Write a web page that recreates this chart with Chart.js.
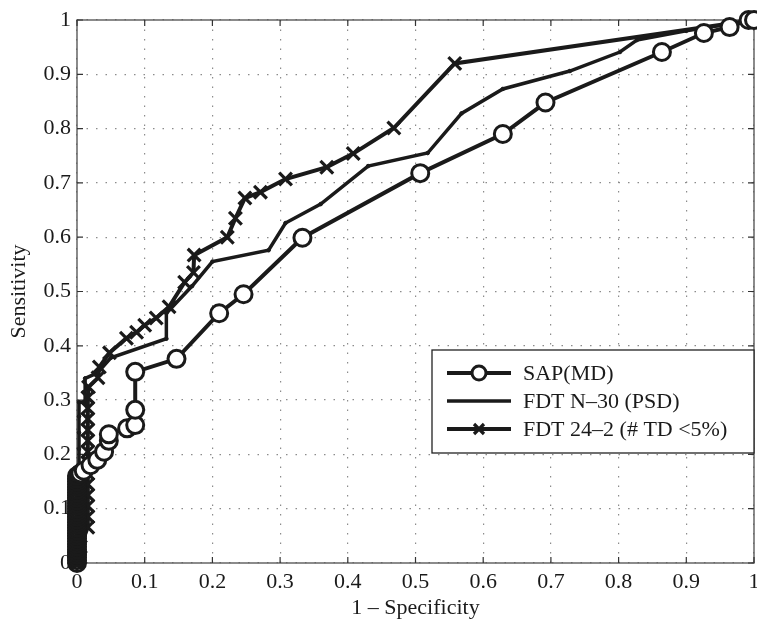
<!DOCTYPE html>
<html lang="en">
<head>
  <meta charset="UTF-8">
  <title>ROC curves</title>
  <style>
    html, body { margin: 0; padding: 0; background: #fff; overflow: hidden; }
    #roc { display: block; }
  </style>
</head>
<body>
  <canvas id="roc" width="757" height="621"></canvas>

  <script src="https://cdn.jsdelivr.net/npm/chart.js@4.4.0/dist/chart.umd.min.js"></script>
  <script>
    // Tick labels
    const xTickLabels = ['0', '0.1', '0.2', '0.3', '0.4', '0.5', '0.6', '0.7', '0.8', '0.9', '1'];
    const yTickLabels = ['0', '0.1', '0.2', '0.3', '0.4', '0.5', '0.6', '0.7', '0.8', '0.9', '1'];
    const seriesNames = ['SAP(MD)', 'FDT N\u201330 (PSD)', 'FDT 24\u20132 (# TD <5%)'];

    // SAP(MD) - circles
    const sapX = [0, 0, 0, 0, 0, 0, 0, 0, 0, 0, 0, 0, 0, 0, 0, 0, 0,
                  0, 0, 0, 0, 0, 0, 0, 0, 0, 0, 0, 0, 0, 0, 0, 0,
                  0.005, 0.01, 0.02, 0.03, 0.04, 0.047, 0.047, 0.074, 0.086, 0.086, 0.086,
                  0.147, 0.21, 0.246, 0.333, 0.507, 0.629, 0.692, 0.864, 0.926, 0.964, 0.992, 1];
    const sapY = [0, 0.005, 0.01, 0.015, 0.02, 0.025, 0.03, 0.035, 0.04, 0.045, 0.05, 0.055, 0.06, 0.065, 0.07, 0.075, 0.08,
                  0.085, 0.09, 0.095, 0.10, 0.105, 0.11, 0.115, 0.12, 0.125, 0.13, 0.135, 0.14, 0.145, 0.15, 0.155, 0.16,
                  0.165, 0.17, 0.18, 0.19, 0.205, 0.225, 0.237, 0.248, 0.254, 0.282, 0.352,
                  0.376, 0.46, 0.495, 0.599, 0.718, 0.79, 0.848, 0.941, 0.976, 0.987, 1, 1];

    // FDT N-30 (PSD) - dots
    const psdX = [0, 0.003, 0.003, 0.003, 0.003, 0.003, 0.003, 0.003, 0.003, 0.003, 0.003, 0.012, 0.012,
                  0.03, 0.05, 0.132, 0.132, 0.17, 0.2, 0.283, 0.308, 0.36, 0.43, 0.518,
                  0.568, 0.629, 0.728, 0.802, 0.827, 0.9, 1];
    const psdY = [0, 0.03, 0.06, 0.09, 0.12, 0.15, 0.18, 0.21, 0.24, 0.27, 0.296, 0.296, 0.34,
                  0.35, 0.378, 0.413, 0.46, 0.51, 0.555, 0.576, 0.626, 0.661, 0.731, 0.755,
                  0.828, 0.873, 0.906, 0.941, 0.963, 0.98, 1];

    // FDT 24-2 (# TD <5%) - crosses
    const tdX = [0, 0.005, 0.016, 0.016, 0.016, 0.016, 0.016, 0.016, 0.016, 0.016, 0.016, 0.016, 0.016,
                 0.016, 0.016, 0.017, 0.031, 0.033, 0.048, 0.073, 0.088, 0.1, 0.117, 0.136,
                 0.159, 0.172, 0.173, 0.222, 0.234, 0.248, 0.271, 0.308, 0.369, 0.408, 0.468, 0.558, 1];
    const tdY = [0, 0.03, 0.066, 0.085, 0.105, 0.125, 0.145, 0.165, 0.185, 0.205, 0.225, 0.245, 0.265,
                 0.285, 0.305, 0.324, 0.341, 0.361, 0.387, 0.414, 0.425, 0.438, 0.451, 0.472,
                 0.517, 0.535, 0.567, 0.6, 0.635, 0.672, 0.683, 0.707, 0.729, 0.754, 0.801, 0.92, 1];

    const ink = '#1a1a1a';
    const serif = "'Liberation Serif', 'DejaVu Serif', serif";

    function toPoints(xs, ys) {
      return xs.map((x, i) => ({ x: x, y: ys[i] }));
    }

    // MATLAB-style box with inward ticks
    const framePlugin = {
      id: 'frame',
      beforeDatasetsDraw(chart) {
        const { ctx, chartArea: a, scales } = chart;
        ctx.save();
        ctx.strokeStyle = '#5a5a5a';
        ctx.lineWidth = 1.4;
        ctx.strokeRect(a.left, a.top, a.right - a.left, a.bottom - a.top);
        ctx.strokeStyle = '#333';
        ctx.lineWidth = 1.2;
        const len = 6;
        ctx.beginPath();
        scales.x.ticks.forEach(t => {
          const px = scales.x.getPixelForValue(t.value);
          ctx.moveTo(px, a.bottom); ctx.lineTo(px, a.bottom - len);
          ctx.moveTo(px, a.top); ctx.lineTo(px, a.top + len);
        });
        scales.y.ticks.forEach(t => {
          const py = scales.y.getPixelForValue(t.value);
          ctx.moveTo(a.left, py); ctx.lineTo(a.left + len, py);
          ctx.moveTo(a.right, py); ctx.lineTo(a.right - len, py);
        });
        ctx.stroke();
        ctx.restore();
      }
    };

    // Boxed legend inside the axes, lower right
    const legendPlugin = {
      id: 'boxLegend',
      afterDatasetsDraw(chart) {
        const { ctx, chartArea: a } = chart;
        const right = a.right;
        const left = right - 322;
        const top = a.top + 330;
        const h = 103;
        ctx.save();
        ctx.fillStyle = '#fff';
        ctx.fillRect(left, top, right - left, h);
        ctx.strokeStyle = '#222';
        ctx.lineWidth = 1.3;
        ctx.strokeRect(left, top, right - left, h);

        ctx.font = '22px ' + serif;
        ctx.textBaseline = 'middle';
        ctx.textAlign = 'left';
        chart.data.datasets.forEach((ds, i) => {
          const y = top + 23 + i * 28;
          const x0 = left + 15, x1 = left + 79, xm = (x0 + x1) / 2;
          ctx.strokeStyle = ink;
          ctx.lineWidth = ds.borderWidth;
          ctx.beginPath(); ctx.moveTo(x0, y); ctx.lineTo(x1, y); ctx.stroke();
          ctx.lineWidth = ds.pointBorderWidth;
          if (ds.pointStyle === 'circle' && ds.pointRadius > 3) {
            ctx.fillStyle = '#fff';
            ctx.beginPath(); ctx.arc(xm, y, 7, 0, Math.PI * 2); ctx.fill(); ctx.stroke();
          } else if (ds.pointStyle === 'crossRot') {
            const r = 5;
            ctx.beginPath();
            ctx.moveTo(xm - r, y - r); ctx.lineTo(xm + r, y + r);
            ctx.moveTo(xm + r, y - r); ctx.lineTo(xm - r, y + r);
            ctx.stroke();
          }
          ctx.fillStyle = ink;
          ctx.fillText(ds.label, left + 91, y + 1);
        });
        ctx.restore();
      }
    };

    const tickFont = { family: serif, size: 22 };

    new Chart(document.getElementById('roc'), {
      type: 'scatter',
      data: {
        datasets: [
          {
            label: seriesNames[0],
            data: toPoints(sapX, sapY),
            showLine: true,
            borderColor: ink,
            borderWidth: 4,
            pointStyle: 'circle',
            pointRadius: 8.5,
            pointBorderWidth: 3,
            // circles stacked on the y axis look like a solid blob in the original
            pointBackgroundColor: c => (c.raw && c.raw.x === 0 ? 'rgba(0,0,0,0)' : '#fff'),
            pointBorderColor: ink,
            clip: false,
            order: 1
          },
          {
            label: seriesNames[1],
            data: toPoints(psdX, psdY),
            showLine: true,
            borderColor: ink,
            borderWidth: 3.5,
            pointStyle: 'circle',
            pointRadius: 1.8,
            pointBorderWidth: 1,
            pointBackgroundColor: ink,
            pointBorderColor: ink,
            clip: false,
            order: 3
          },
          {
            label: seriesNames[2],
            data: toPoints(tdX, tdY),
            showLine: true,
            borderColor: ink,
            borderWidth: 4,
            pointStyle: 'crossRot',
            pointRadius: 9,
            pointBorderWidth: 3.2,
            pointBorderColor: ink,
            clip: false,
            order: 2
          }
        ]
      },
      options: {
        responsive: false,
        animation: false,
        layout: { autoPadding: false, padding: { left: 0, right: 3, top: 20, bottom: 0 } },
        plugins: {
          legend: { display: false },
          tooltip: { enabled: false }
        },
        elements: { line: { tension: 0 } },
        scales: {
          x: {
            type: 'linear',
            min: 0,
            max: 1,
            ticks: {
              stepSize: 0.1,
              color: ink,
              font: tickFont,
              padding: 6,
              maxRotation: 0,
              callback: (v, i) => xTickLabels[i]
            },
            grid: { color: '#8c8c8c', lineWidth: 1.2, drawTicks: false },
            border: { display: false, dash: [1.5, 8] },
            title: {
              display: true,
              text: '1 \u2013 Specificity',
              color: ink,
              font: tickFont,
              padding: { top: 0, bottom: 0 }
            },
            afterFit(scale) {
              scale.height = 58;
              // let the plot run to the right edge like the original
              scale.paddingLeft = 0;
              scale.paddingRight = 0;
            }
          },
          y: {
            type: 'linear',
            min: 0,
            max: 1,
            ticks: {
              stepSize: 0.1,
              color: ink,
              font: tickFont,
              padding: 6,
              callback: (v, i) => yTickLabels[i]
            },
            grid: { color: '#8c8c8c', lineWidth: 1.2, drawTicks: false },
            border: { display: false, dash: [1.5, 8] },
            title: {
              display: true,
              text: 'Sensitivity',
              color: ink,
              font: tickFont,
              padding: { top: 6, bottom: 0 }
            },
            afterFit(scale) { scale.width = 77; }
          }
        }
      },
      plugins: [framePlugin, legendPlugin]
    });
  </script>
</body>
</html>
